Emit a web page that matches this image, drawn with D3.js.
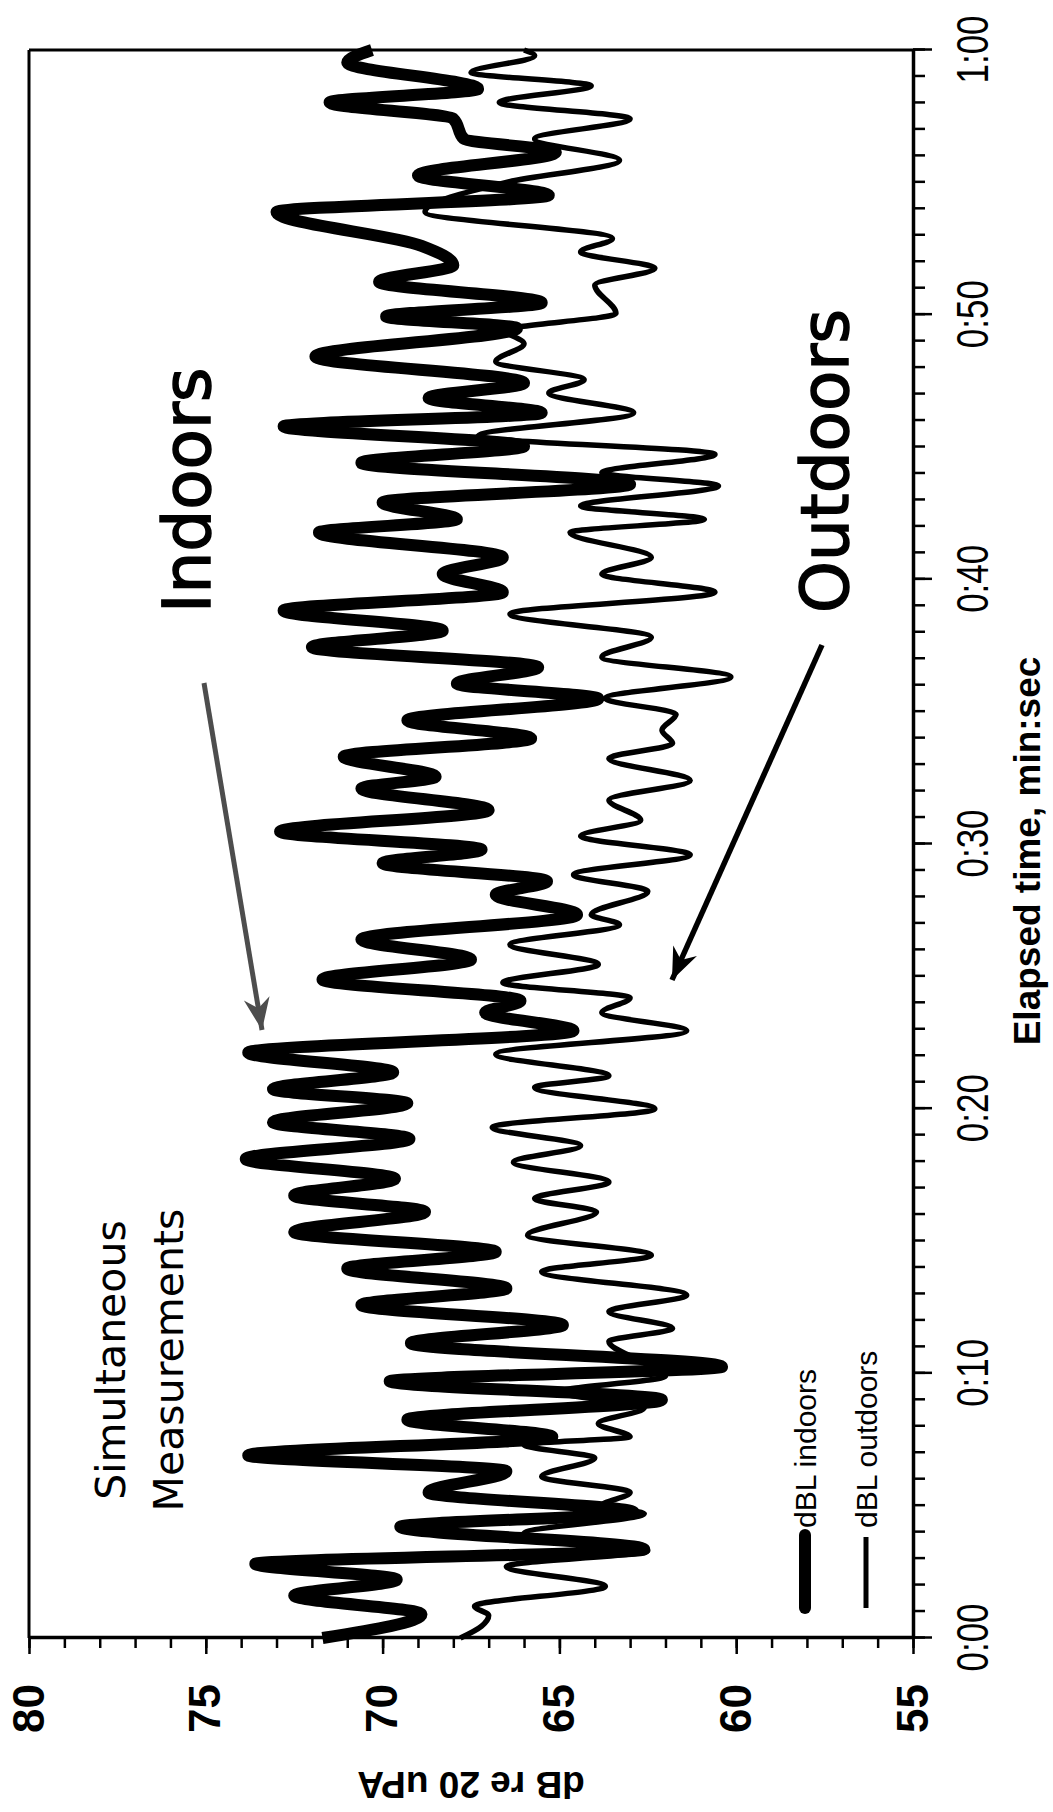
<!DOCTYPE html>
<html>
<head>
<meta charset="utf-8">
<script src="https://cdn.jsdelivr.net/npm/d3@7"></script>
<style>
  body { margin: 0; background: #fff; }
  .axis path, .axis line { stroke: #000; }
</style>
</head>
<body>
<div class="chart"></div>
<script>
// turning points: time in seconds, level in dB
var indoorsTime = [0, 0.9, 1.6, 2.2, 2.8, 3.35, 4.2, 4.75, 5.5, 6.3, 6.9, 7.6, 8.25, 9.0, 9.7, 10.25,
  11.14, 11.83, 12.58, 13.21, 13.96, 14.59, 15.34, 16.1, 16.72, 17.35, 18.1, 18.86, 19.49, 20.2,
  20.74, 21.37, 22.12, 22.94, 23.63, 24.07, 24.88, 25.64, 26.39, 27.33, 28.08, 28.59, 29.28, 29.78,
  30.47, 31.28, 32.1, 32.54, 33.3, 33.99, 34.67, 35.49, 36.06, 36.68, 37.44, 38.06, 38.82, 39.51,
  40.2, 40.83, 41.77, 42.27, 42.9, 43.59, 44.4, 45.03, 45.78, 46.29, 46.85, 47.42, 48.42, 49.49,
  49.93, 50.45, 51.24, 51.87, 52.6, 53.88, 54.51, 55.26, 56.14, 56.64, 57.4, 58.02, 58.53, 59.53, 60];
var indoorsDb = [71.7, 68.9, 72.5, 69.6, 73.6, 62.6, 69.5, 62.9, 68.7, 66.5, 73.8, 65.2, 69.3, 62.1, 69.8, 60.4,
  69.2, 64.9, 70.6, 66.5, 71.0, 66.8, 72.5, 68.8, 72.5, 69.65, 73.87, 69.24, 73.1, 69.3,
  73.1, 69.7, 73.8, 64.6, 67.1, 66.1, 71.7, 67.5, 70.6, 64.5, 66.8, 65.35, 70.0, 67.2,
  72.9, 67.0, 70.6, 68.5, 71.1, 65.8, 69.3, 63.9, 67.9, 65.6, 72.0, 68.3, 72.8, 66.6,
  68.3, 66.6, 71.8, 67.9, 70.0, 63.0, 70.6, 66.0, 72.8, 65.5, 68.7, 66.0, 71.9, 66.2,
  69.9, 65.5, 70.1, 68.0, 68.9, 73.0, 65.3, 69.0, 65.1, 67.7, 68.0, 71.5, 67.3, 71.0, 70.3];

var outdoorsTime = [0, 0.45, 0.85, 1.2, 1.95, 2.7, 3.3, 3.95, 4.7, 5.0, 5.5, 6.1, 6.8, 7.3, 7.6, 8.1,
  8.7, 9.3, 9.9, 10.4, 11.2, 11.7, 12.33, 12.96, 13.84, 14.46, 15.22, 16.1, 16.6, 17.23, 17.98,
  18.6, 19.3, 19.99, 20.8, 21.24, 22.06, 22.94, 23.63, 24.19, 24.76, 25.45, 26.2, 26.95, 27.33,
  28.21, 28.84, 29.59, 30.3, 30.9, 31.66, 32.4, 33.23, 33.8, 34.3, 34.9, 35.5, 36.31, 37.06,
  37.81, 38.69, 39.51, 40.2, 40.83, 41.77, 42.27, 42.77, 43.53, 44.03, 44.72, 45.41, 46.29,
  47.04, 47.54, 48.23, 48.9, 49.4, 50.05, 51.12, 51.75, 52.37, 52.88, 53.88, 55.0, 55.83,
  56.64, 57.4, 58.02, 58.65, 59.15, 59.78, 60];
var outdoorsDb = [67.8, 67.2, 67.0, 67.4, 63.7, 66.5, 62.5, 66.0, 62.6, 63.8, 63.0, 65.5, 64.0, 66.0, 63.0, 63.9,
  62.6, 65.0, 62.0, 62.6, 63.6, 61.8, 63.6, 61.4, 65.5, 62.4, 65.9, 63.95, 65.7, 63.6, 66.3,
  64.4, 66.9, 62.3, 65.7, 63.6, 66.8, 61.4, 63.8, 63.0, 66.6, 63.9, 66.4, 63.3, 64.1,
  62.5, 64.6, 61.3, 64.4, 62.7, 63.6, 61.3, 63.6, 61.8, 62.1, 61.7, 63.7, 60.15, 63.8,
  62.4, 66.4, 60.6, 63.8, 62.4, 64.7, 60.9, 64.4, 60.5, 63.8, 60.6, 67.3, 62.9,
  65.3, 64.3, 66.8, 66.0, 66.5, 63.4, 64.0, 62.3, 64.4, 63.5, 68.8, 66.5, 63.3,
  65.7, 63.0, 66.7, 64.1, 67.5, 65.7, 66.0];

var majorTimes = [0, 10, 20, 30, 40, 50, 60];
var timeLabels = ["0:00", "0:10", "0:20", "0:30", "0:40", "0:50", "1:00"];
var dbTicks = [55, 60, 65, 70, 75, 80];

var svgWidth = 1053;
var svgHeight = 1812;

// the whole chart is turned a quarter turn counter-clockwise on the page
var plot = {left: 29, top: 50, right: 913, bottom: 1638};
var chartWidth = plot.bottom - plot.top;   // time axis length
var chartHeight = plot.right - plot.left;  // dB axis length

var svg = d3.select(".chart").append("svg")
  .attr("width", svgWidth)
  .attr("height", svgHeight)
  .style("font-family", "'Liberation Sans', Arial, sans-serif");

var defs = svg.append("defs");
function arrowMarker(id, color) {
  defs.append("marker")
    .attr("id", id)
    .attr("viewBox", "-34 -15 36 30")
    .attr("refX", 0).attr("refY", 0)
    .attr("markerWidth", 36).attr("markerHeight", 30)
    .attr("markerUnits", "userSpaceOnUse")
    .attr("orient", "auto")
    .append("path")
    .attr("d", "M0,0 L-32,-13 L-22,0 L-32,13 Z")
    .attr("fill", color);
}
arrowMarker("headGrey", "#4d4d4d");
arrowMarker("headBlack", "#000");

var chart = svg.append("g")
  .attr("transform", "translate(" + plot.left + "," + plot.bottom + ") rotate(-90)");

var xScale = d3.scaleLinear().domain([0, 60]).range([0, chartWidth]);
var yScale = d3.scaleLinear().domain([55, 80]).range([chartHeight, 0]);

// frame: 80 dB edge and 1:00 edge
chart.append("line")
  .attr("x1", 0).attr("x2", chartWidth).attr("y1", yScale(80)).attr("y2", yScale(80))
  .attr("stroke", "#000").attr("stroke-width", 3);
chart.append("line")
  .attr("x1", xScale(60)).attr("x2", xScale(60)).attr("y1", 0).attr("y2", chartHeight)
  .attr("stroke", "#000").attr("stroke-width", 3);

// time axis (ends up on the right of the page)
chart.append("g")
  .attr("class", "axis")
  .attr("transform", "translate(0," + chartHeight + ")")
  .call(d3.axisBottom(xScale).tickValues(d3.range(0, 61)).tickSize(12).tickSizeOuter(0).tickFormat(""))
  .call(function(g) {
    g.select(".domain").attr("stroke-width", 3.5);
    g.selectAll(".tick line").attr("stroke-width", 2.5);
  });

chart.append("g")
  .attr("class", "axis")
  .attr("transform", "translate(0," + chartHeight + ")")
  .call(d3.axisBottom(xScale).tickValues(majorTimes).tickSize(19).tickSizeOuter(0).tickPadding(24)
    .tickFormat(function(d, i) { return timeLabels[i]; }))
  .call(function(g) {
    g.select(".domain").remove();
    g.selectAll(".tick line").attr("stroke-width", 2.5);
    g.selectAll(".tick text")
      .attr("font-family", "'Liberation Sans Narrow', 'Liberation Sans', Arial, sans-serif")
      .attr("font-size", 45)
      .attr("fill", "#000")
      .attr("textLength", 68)
      .attr("lengthAdjust", "spacingAndGlyphs");
  });

// dB axis (ends up along the bottom of the page)
chart.append("g")
  .attr("class", "axis")
  .call(d3.axisLeft(yScale).tickValues(d3.range(55, 81)).tickSize(10).tickSizeOuter(0).tickFormat(""))
  .call(function(g) {
    g.select(".domain").attr("stroke-width", 3.5);
    g.selectAll(".tick line").attr("stroke-width", 2.5);
  });

chart.append("g")
  .attr("class", "axis")
  .call(d3.axisLeft(yScale).tickValues(dbTicks).tickSize(16).tickSizeOuter(0).tickPadding(30))
  .call(function(g) {
    g.select(".domain").remove();
    g.selectAll(".tick line").attr("stroke-width", 2.5);
    g.selectAll(".tick text")
      .attr("font-size", 44)
      .attr("font-weight", "bold")
      .attr("fill", "#000");
  });

// axis titles
chart.append("text")
  .attr("x", chartWidth / 2 - 7)
  .attr("y", 1011)
  .attr("text-anchor", "middle")
  .attr("font-size", 37)
  .attr("font-weight", "bold")
  .text("Elapsed time, min:sec");

chart.append("text")
  .attr("transform", "translate(-134," + (chartHeight / 2) + ") rotate(-90)")
  .attr("text-anchor", "middle")
  .attr("font-size", 37)
  .attr("font-weight", "bold")
  .text("dB re 20 uPA");

// the two traces
var line = d3.line()
  .x(function(d) { return xScale(d[0]); })
  .y(function(d) { return yScale(d[1]); })
  .curve(d3.curveMonotoneX);

chart.append("path")
  .datum(d3.zip(outdoorsTime, outdoorsDb))
  .attr("d", line)
  .attr("fill", "none")
  .attr("stroke", "#000")
  .attr("stroke-width", 5.5)
  .attr("stroke-linejoin", "round");

chart.append("path")
  .datum(d3.zip(indoorsTime, indoorsDb))
  .attr("d", line)
  .attr("fill", "none")
  .attr("stroke", "#000")
  .attr("stroke-width", 12)
  .attr("stroke-linejoin", "round");

// annotations
var verdanaLike = "'DejaVu Sans', Verdana, sans-serif";
chart.append("text")
  .attr("x", 1025).attr("y", 181)
  .attr("font-family", verdanaLike).attr("font-size", 66)
  .attr("stroke", "#000").attr("stroke-width", 1.5)
  .text("Indoors");
chart.append("text")
  .attr("x", 1025).attr("y", 819)
  .attr("font-family", verdanaLike).attr("font-size", 66)
  .attr("stroke", "#000").attr("stroke-width", 1.5)
  .text("Outdoors");

chart.append("text")
  .attr("x", 278).attr("y", 96)
  .attr("text-anchor", "middle")
  .attr("font-family", verdanaLike).attr("font-size", 41)
  .text("Simultaneous");
chart.append("text")
  .attr("x", 278).attr("y", 154)
  .attr("text-anchor", "middle")
  .attr("font-family", verdanaLike).attr("font-size", 41)
  .text("Measurements");

chart.append("line")
  .attr("x1", 955).attr("y1", 175).attr("x2", 608).attr("y2", 233)
  .attr("stroke", "#4d4d4d").attr("stroke-width", 5)
  .attr("marker-end", "url(#headGrey)");
chart.append("line")
  .attr("x1", 993).attr("y1", 793).attr("x2", 658).attr("y2", 643)
  .attr("stroke", "#000").attr("stroke-width", 5.5)
  .attr("marker-end", "url(#headBlack)");

// legend
var legend = chart.append("g");
legend.append("line")
  .attr("x1", 30).attr("x2", 103).attr("y1", 776).attr("y2", 776)
  .attr("stroke", "#000").attr("stroke-width", 12).attr("stroke-linecap", "round");
legend.append("line")
  .attr("x1", 30).attr("x2", 101).attr("y1", 837).attr("y2", 837)
  .attr("stroke", "#000").attr("stroke-width", 5);
legend.append("text")
  .attr("x", 110).attr("y", 787)
  .attr("font-size", 30)
  .text("dBL indoors");
legend.append("text")
  .attr("x", 110).attr("y", 848)
  .attr("font-size", 30)
  .text("dBL outdoors");
</script>
</body>
</html>
